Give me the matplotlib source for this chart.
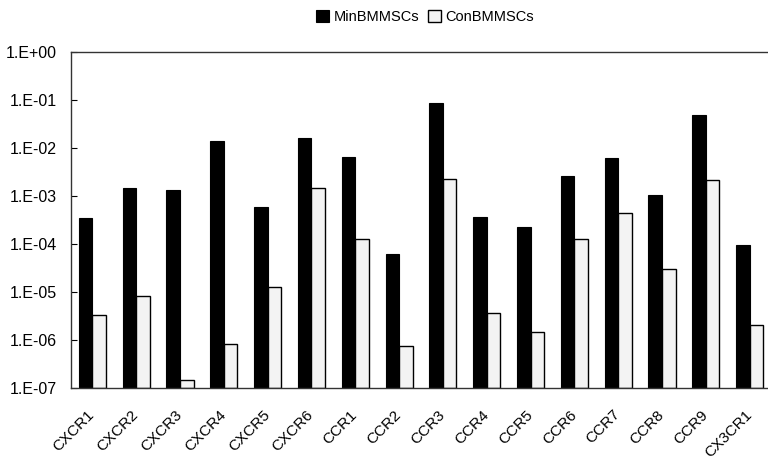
import numpy as np
import matplotlib
matplotlib.use("Agg")
from matplotlib import pyplot as plt
from matplotlib import transforms
from matplotlib.ticker import FixedLocator, NullLocator

# chemokine receptors, relative expression
receptors = ["CXCR1", "CXCR2", "CXCR3", "CXCR4", "CXCR5", "CXCR6", "CCR1", "CCR2",
             "CCR3", "CCR4", "CCR5", "CCR6", "CCR7", "CCR8", "CCR9", "CX3CR1"]
min_bmmsc = [3.5e-4, 1.5e-3, 1.33e-3, 1.4e-2, 6.0e-4, 1.6e-2, 6.5e-3, 6.2e-5,
             8.5e-2, 3.6e-4, 2.3e-4, 2.6e-3, 6.2e-3, 1.07e-3, 4.8e-2, 9.3e-5]
con_bmmsc = [3.3e-6, 8.3e-6, 1.5e-7, 8.1e-7, 1.25e-5, 1.5e-3, 1.25e-4, 7.6e-7,
             2.25e-3, 3.6e-6, 1.5e-6, 1.27e-4, 4.4e-4, 3.0e-5, 2.15e-3, 2.05e-6]
ytick_vals = [1e0, 1e-1, 1e-2, 1e-3, 1e-4, 1e-5, 1e-6, 1e-7]
ytick_labels = ["1.E+00", "1.E-01", "1.E-02", "1.E-03", "1.E-04", "1.E-05", "1.E-06", "1.E-07"]

plt.rcParams["font.family"] = ["Liberation Sans", "DejaVu Sans"]

fig = plt.figure(figsize=(7.68, 4.62), dpi=100)
ax = fig.add_axes([70.5 / 768, 74 / 462, 701 / 768, 336 / 462])

x = np.arange(len(receptors))
w = 0.31
ax.bar(x - w / 2, min_bmmsc, width=w, color="black", edgecolor="black",
       linewidth=0.8, label="MinBMMSCs", bottom=1e-7)
ax.bar(x + w / 2, np.array(con_bmmsc) - 1e-7, width=w, color="#f3f3f3", edgecolor="black",
       linewidth=1.0, label="ConBMMSCs", bottom=1e-7)

ax.set_yscale("log")
ax.set_ylim(1e-7, 1e0)
ax.set_xlim(-0.5, len(receptors) - 0.5)
ax.yaxis.set_major_locator(FixedLocator(ytick_vals))
ax.yaxis.set_minor_locator(NullLocator())
ax.set_yticklabels(ytick_labels, fontsize=11.5)
ax.tick_params(axis="y", direction="in", length=4, width=0.8, pad=10)

ax.set_xticks(x)
ax.set_xticklabels(receptors, rotation=45, ha="right", rotation_mode="anchor", fontsize=11)
ax.tick_params(axis="x", length=0, pad=14)
shift = transforms.ScaledTranslation(-5 / 100, 0, fig.dpi_scale_trans)
for lbl in ax.get_xticklabels():
    lbl.set_transform(lbl.get_transform() + shift)

for s in ["left", "top", "bottom"]:
    ax.spines[s].set_linewidth(1.0)
    ax.spines[s].set_color("#333333")
ax.spines["right"].set_visible(False)

handles, labels = ax.get_legend_handles_labels()
fig.legend(handles, labels, loc="center", bbox_to_anchor=(425 / 768, 1 - 17 / 462),
           ncol=2, frameon=False, fontsize=10.5, handlelength=0.9, handleheight=0.9,
           handletextpad=0.3, columnspacing=0.6)

fig.savefig("out.png", dpi=100)
